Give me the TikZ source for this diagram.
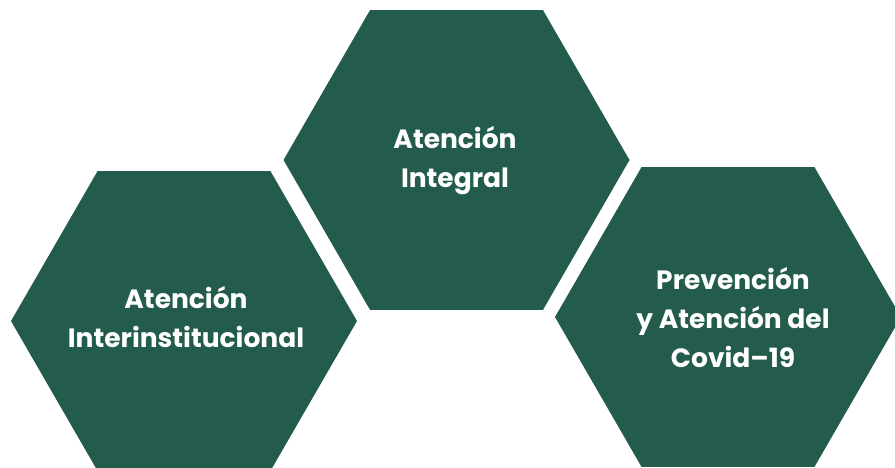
\documentclass[tikz,border=0pt]{standalone}
\usepackage{fontspec}
\setmainfont{Poppins}
\usetikzlibrary{shapes.geometric}
\definecolor{hexgreen}{RGB}{35,91,76}
\tikzset{
  hexcell/.style={regular polygon, regular polygon sides=6, minimum size=346pt,
    inner sep=0pt, outer sep=0pt, fill=hexgreen, draw=none},
  hexlabel/.style={text=white, align=center, inner sep=0pt,
    font=\fontsize{26.5}{39}\selectfont\bfseries}
}
\begin{document}
\begin{tikzpicture}[x=1pt,y=-1pt]
  \useasboundingbox (0,0) rectangle (895,468);
  \clip (0,0) rectangle (895,468);
  % three honeycomb cells
  \node[hexcell] (integral) at (456.5,160) {};
  \node[hexcell] (inter) at (184,321) {};
  \node[hexcell] (covid) at (728,317) {};
  % captions
  \node[hexlabel] (tIntegral) at (455,161) {Atención\\Integral};
  \node[hexlabel] (tInter) at (186,317) {Atención\\Interinstitucional};
  \node[hexlabel] (tCovid) at (733,318) {Prevención\\y Atención del\\Covid–19};
\end{tikzpicture}
\end{document}
